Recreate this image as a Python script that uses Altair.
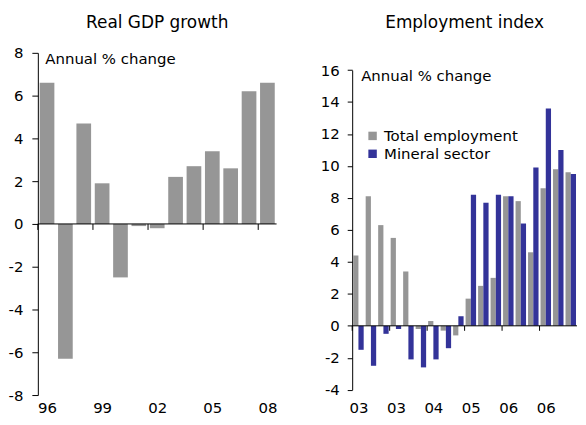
import altair as alt
import pandas as pd

# ---------------- data ----------------
gdp_years = ["96", "97", "98", "99", "00", "01", "02", "03", "04", "05", "06", "07", "08"]
gdp_values = [6.6, -6.3, 4.7, 1.9, -2.5, -0.1, -0.2, 2.2, 2.7, 3.4, 2.6, 6.2, 6.6]
gdp_tick_labels = ["96", "99", "02", "05", "08"]

quarters = ["Mar-03", "Jun-03", "Sep-03", "Dec-03", "Mar-04", "Jun-04", "Sep-04", "Dec-04",
            "Mar-05", "Jun-05", "Sep-05", "Dec-05", "Mar-06", "Jun-06", "Sep-06", "Dec-06",
            "Mar-07", "Jun-07"]
total_employment = [4.4, 8.1, 6.3, 5.5, 3.4, -0.2, 0.3, -0.3, -0.6, 1.7, 2.5, 3.0,
                    8.1, 7.8, 4.6, 8.6, 9.8, 9.6]
mineral_sector = [-1.5, -2.5, -0.5, -0.2, -2.1, -2.6, -2.1, -1.4, 0.6, 8.2, 7.7, 8.2,
                  8.1, 6.4, 9.9, 13.6, 11.0, 9.5]
emp_tick_labels = ["03", "03", "04", "05", "06", "06"]
series_names = ["Total employment", "Mineral sector"]
series_colors = ["#969696", "#333399"]

FONT = "DejaVu Sans"
BLACK = "#000000"
GRAY = "#969696"
NUM_LABEL = "'' + datum.value"  # plain hyphen minus, as in the original

# ---------------- left: Real GDP growth ----------------
gdp_df = pd.DataFrame({"year": gdp_years, "value": gdp_values})
gdp_df["i"] = range(len(gdp_df))
n_gdp = len(gdp_years)

gdp_label_vals = [3 * k + 0.5 for k in range(len(gdp_tick_labels))]
gdp_label_expr = "[" + ",".join(f"'{s}'" for s in gdp_tick_labels) + "][round((datum.value - 0.5) / 3)]"

xl = alt.Scale(domain=[0, n_gdp], nice=False, zero=False)
yl = alt.Scale(domain=[-8, 8], nice=False)

left_bars = alt.Chart(gdp_df).transform_calculate(
    x0="datum.i + 0.1"
).transform_calculate(
    x1="datum.i + 0.9"
).mark_bar(color=GRAY).encode(
    x=alt.X("x0:Q", scale=xl, axis=alt.Axis(values=gdp_label_vals, labelExpr=gdp_label_expr,
                                             domain=False, ticks=False, grid=False, title=None,
                                             labelFontSize=15, labelFont=FONT, labelColor=BLACK,
                                             labelPadding=6)),
    x2="x1:Q",
    y=alt.Y("value:Q", scale=yl, stack=None,
            axis=alt.Axis(values=list(range(-8, 9, 2)), tickCount=9, grid=False, title=None,
                          labelExpr=NUM_LABEL, labelOverlap=False, labelSeparation=0,
                          tickSize=6, labelPadding=9, labelFontSize=15,
                          labelFont=FONT, labelColor=BLACK,
                          domainColor=BLACK, tickColor=BLACK)),
    y2=alt.datum(0),
)

left_zero = alt.Chart(pd.DataFrame({"z": [0]})).mark_rule(color=BLACK, strokeWidth=1).encode(
    y=alt.datum(0)
)

left_ticks = alt.Chart(pd.DataFrame({"b": list(range(0, n_gdp, 3))})).mark_rule(
    color=BLACK, strokeWidth=1, y2Offset=6
).encode(
    x=alt.X("b:Q", title=None),
    y=alt.datum(0),
    y2=alt.datum(0),
)

left_note = alt.Chart(pd.DataFrame({"t": ["Annual % change"]})).mark_text(
    align="left", baseline="alphabetic", dx=7.5, dy=11.3, fontSize=15, font=FONT, color=BLACK
).encode(
    x=alt.datum(0),
    y=alt.datum(8),
    text="t:N",
)

left = alt.layer(left_bars, left_zero, left_ticks, left_note).properties(
    width=240, height=344,
    title=alt.TitleParams("Real GDP growth", fontSize=17, font=FONT, fontWeight="normal",
                          color=BLACK, frame="group", anchor="middle", offset=14),
)

# ---------------- right: Employment index ----------------
n_q = len(quarters)
emp_df = pd.DataFrame({
    "i": list(range(n_q)) * 2,
    "quarter": quarters * 2,
    "series": [series_names[0]] * n_q + [series_names[1]] * n_q,
    "value": total_employment + mineral_sector,
})

emp_label_vals = [3 * k + 0.5 for k in range(len(emp_tick_labels))]
emp_label_expr = "[" + ",".join(f"'{s}'" for s in emp_tick_labels) + "][round((datum.value - 0.5) / 3)]"

H = 344
xr = alt.Scale(domain=[0, n_q], nice=False, zero=False)
yr = alt.Scale(domain=[-4, 16], nice=False, range=[H - 5.3, 17.3])

right_bars = alt.Chart(emp_df).transform_calculate(
    x0=f"datum.i + (datum.series == '{series_names[0]}' ? 0.08 : 0.5)"
).transform_calculate(
    x1="datum.x0 + 0.42"
).mark_bar().encode(
    x=alt.X("x0:Q", scale=xr, axis=alt.Axis(values=emp_label_vals, labelExpr=emp_label_expr,
                                             domain=False, ticks=False, grid=False, title=None,
                                             labelFontSize=15, labelFont=FONT, labelColor=BLACK,
                                             labelPadding=6)),
    x2="x1:Q",
    y=alt.Y("value:Q", scale=yr, stack=None,
            axis=alt.Axis(values=list(range(-4, 17, 2)), tickCount=11, grid=False, title=None,
                          labelExpr=NUM_LABEL, labelOverlap=False, labelSeparation=0,
                          tickSize=5, labelPadding=8, labelFontSize=15,
                          labelFont=FONT, labelColor=BLACK,
                          domainColor=BLACK, tickColor=BLACK)),
    y2=alt.datum(0),
    color=alt.Color("series:N", scale=alt.Scale(domain=series_names, range=series_colors),
                    legend=alt.Legend(orient="none", legendX=329, legendY=76, title=None,
                                      symbolType="square", symbolSize=72, symbolStrokeWidth=0,
                                      labelFontSize=15, labelFont=FONT, labelColor=BLACK,
                                      labelOffset=4, rowPadding=2, padding=0)),
)

right_zero = alt.Chart(pd.DataFrame({"z": [0]})).mark_rule(color=BLACK, strokeWidth=1).encode(
    y=alt.datum(0)
)

right_ticks = alt.Chart(pd.DataFrame({"b": list(range(0, n_q, 3))})).mark_rule(
    color=BLACK, strokeWidth=1, y2Offset=5
).encode(
    x=alt.X("b:Q", title=None),
    y=alt.datum(0),
    y2=alt.datum(0),
)

right_note = alt.Chart(pd.DataFrame({"t": ["Annual % change"]})).mark_text(
    align="left", baseline="alphabetic", dx=9, dy=10.7, fontSize=15, font=FONT, color=BLACK
).encode(
    x=alt.datum(0),
    y=alt.datum(16),
    text="t:N",
)

right = alt.layer(right_bars, right_zero, right_ticks, right_note).properties(
    width=226, height=H,
    title=alt.TitleParams("Employment index", fontSize=17, font=FONT, fontWeight="normal",
                          color=BLACK, frame="group", anchor="middle", offset=21),
)

chart = alt.hconcat(left, right, spacing=42).properties(
    padding={"left": 0, "right": 0, "top": 5, "bottom": 0},
    background="white",
).configure_view(stroke=None)

chart.save("out.html", embed_options={"renderer": "svg", "actions": False})
